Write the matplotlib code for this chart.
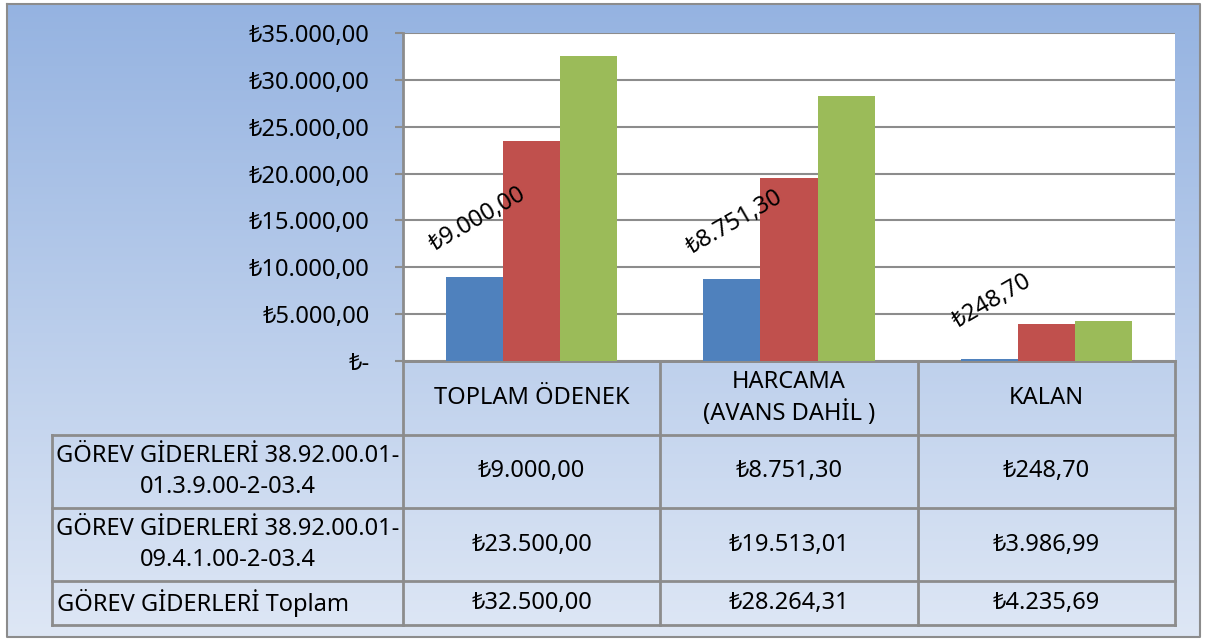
import numpy as np
import matplotlib
matplotlib.use('Agg')
import matplotlib.pyplot as plt
from matplotlib.colors import LinearSegmentedColormap

plt.rcParams['font.family'] = ['Noto Sans', 'DejaVu Sans']

# 数据
categories = ['TOPLAM ÖDENEK', 'HARCAMA\n(AVANS DAHİL )', 'KALAN']
series_names = ['GÖREV GİDERLERİ 38.92.00.01-\n01.3.9.00-2-03.4',
                'GÖREV GİDERLERİ 38.92.00.01-\n09.4.1.00-2-03.4',
                'GÖREV GİDERLERİ Toplam']
values_1 = [9000.00, 8751.30, 248.70]
values_2 = [23500.00, 19513.01, 3986.99]
values_3 = [32500.00, 28264.31, 4235.69]
yticks = [0, 5000, 10000, 15000, 20000, 25000, 30000, 35000]
colors = ['#4F81BD', '#C0504D', '#9BBB59']


def tl(v):
    # 土耳其里拉格式 ₺9.000,00
    if v == 0:
        return '₺-'
    s = '{:,.2f}'.format(v)
    s = s.replace(',', 'X').replace('.', ',').replace('X', '.')
    return '₺' + s


W, H = 1206, 642
fig = plt.figure(figsize=(W / 100, H / 100), dpi=100)

# 背景和表格 (像素坐标)
bg = fig.add_axes([0, 0, 1, 1])
bg.set_xlim(0, W)
bg.set_ylim(H, 0)
bg.axis('off')
cmap = LinearSegmentedColormap.from_list('bg', ['#95B3E1', '#DEE7F5'])
grad = np.linspace(0, 1, 256).reshape(-1, 1)
bg.imshow(grad, cmap=cmap, extent=[7, 1200, 637, 4], aspect='auto', zorder=0)
bg.plot([7, 1200, 1200, 7, 7], [4, 4, 637, 637, 4], color='#8C8C8C', lw=1.5, zorder=1)

grey = '#8C8C8C'
col_x = [52, 403, 660, 918, 1175]
row_y = [361, 435, 508, 581, 625]
fs = 17

# 表格线
for x in col_x[1:]:
    bg.plot([x, x], [row_y[0], row_y[-1]], color=grey, lw=2, zorder=2)
bg.plot([col_x[0], col_x[0]], [row_y[1], row_y[-1]], color=grey, lw=2, zorder=2)
bg.plot([col_x[1], col_x[-1]], [row_y[0], row_y[0]], color=grey, lw=2, zorder=2)
for y in row_y[1:]:
    bg.plot([col_x[0], col_x[-1]], [y, y], color=grey, lw=2, zorder=2)

# 表头
for i, c in enumerate(categories):
    cx = (col_x[i + 1] + col_x[i + 2]) / 2
    cy = (row_y[0] + row_y[1]) / 2
    bg.text(cx, cy, c, ha='center', va='center', fontsize=fs, linespacing=1.35)

# 表格数据
table_vals = [values_1, values_2, values_3]
for r, name in enumerate(series_names):
    cy = (row_y[r + 1] + row_y[r + 2]) / 2
    if '\n' in name:
        bg.text((col_x[0] + col_x[1]) / 2, cy, name, ha='center', va='center',
                fontsize=fs, linespacing=1.4)
    else:
        bg.text(col_x[0] + 5, cy, name, ha='left', va='center', fontsize=fs)
    for i, v in enumerate(table_vals[r]):
        cx = (col_x[i + 1] + col_x[i + 2]) / 2
        bg.text(cx, cy, tl(v), ha='center', va='center', fontsize=fs)

# 柱状图
ax = fig.add_axes([403 / W, 1 - 361 / H, 772 / W, 328 / H])
ax.set_facecolor('white')
x = np.arange(len(categories))
bw = 0.222
for k, vals in enumerate([values_1, values_2, values_3]):
    ax.bar(x + (k - 1) * bw, vals, width=bw, color=colors[k], zorder=3)

ax.set_xlim(-0.5, 2.5)
ax.set_ylim(0, 35000)
ax.set_yticks(yticks)
ax.set_yticklabels([tl(v) for v in yticks], fontsize=fs)
ax.set_xticks([])
ax.grid(axis='y', color=grey, lw=1.5, zorder=1)
for s in ['top', 'right']:
    ax.spines[s].set_visible(False)
ax.spines['left'].set_color(grey)
ax.spines['left'].set_linewidth(2)
ax.spines['bottom'].set_color(grey)
ax.spines['bottom'].set_linewidth(2)
ax.tick_params(axis='y', length=6, width=1.5, color=grey, pad=18)

# 数据标签 (只有第一组)
for i, v in enumerate(values_1):
    ax.annotate(tl(v), (x[i] - bw, v), xytext=(2, 41), textcoords='offset points',
                ha='center', va='center', rotation=30, fontsize=fs, zorder=5)

plt.savefig('out.png', dpi=100)
plt.close()
